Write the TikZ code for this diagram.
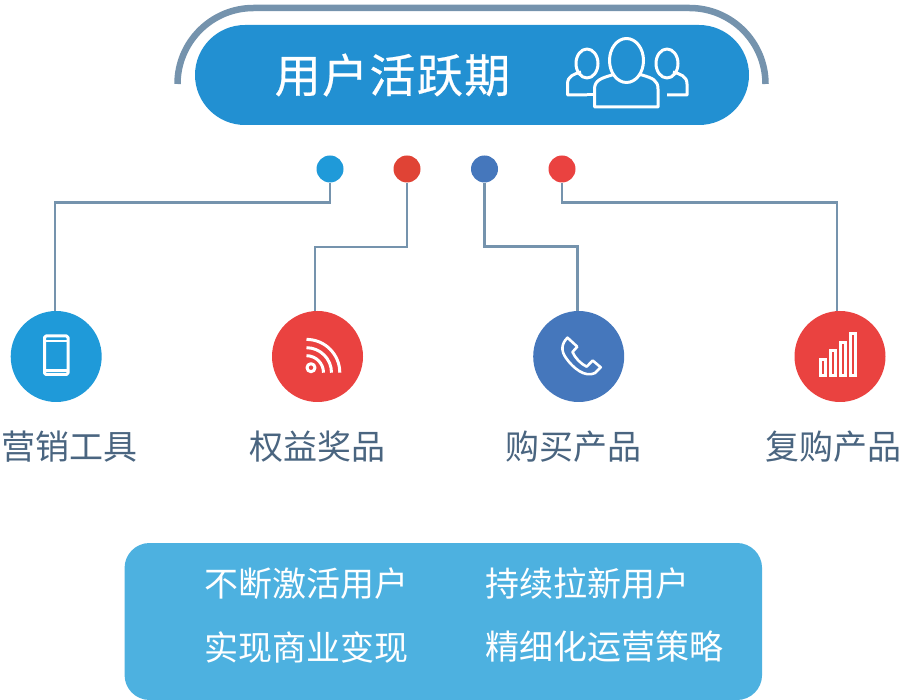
\documentclass[tikz,border=0pt]{standalone}
\usepackage{fontspec}
\setmainfont{Noto Sans CJK SC}
\definecolor{pillc}{HTML}{2290D2}
\definecolor{arcc}{HTML}{7593AD}
\definecolor{blueA}{HTML}{1F9AD9}
\definecolor{redA}{HTML}{E04335}
\definecolor{blueB}{HTML}{4577BC}
\definecolor{redB}{HTML}{EA4240}
\definecolor{boxc}{HTML}{4DB1E0}
\definecolor{labc}{HTML}{4A6580}
\tikzset{
  dotn/.style={circle,minimum size=27pt,inner sep=0pt,fill=#1},
  bign/.style={circle,minimum size=91pt,inner sep=0pt,fill=#1},
  conn/.style={draw=arcc,line width=2.4pt},
  lab/.style={text=labc,font=\fontsize{34}{36}\selectfont,inner sep=0pt},
  wht/.style={text=white,font=\fontsize{34}{36}\selectfont,inner sep=0pt,anchor=west},
  ico/.style={draw=white,line width=3pt,line join=round},
}
\begin{document}
\begin{tikzpicture}[x=1pt,y=-1pt]
\useasboundingbox (0,0) rectangle (900,700);
% arc
\draw[draw=arcc,line width=6.5pt] (177.5,84) arc[start angle=180,end angle=90,radius=76pt] -- (689.5,8) arc[start angle=90,end angle=0,radius=76pt];
% pill
\node (pill) at (472,75) [rectangle,rounded corners=50pt,fill=pillc,minimum width=554pt,minimum height=100pt,inner sep=0pt] {};
\node (title) at (392.5,75) [text=white,inner sep=0pt,font=\fontsize{46}{48}\selectfont\addfontfeatures{LetterSpace=3,FakeBold=0.5}] {用户活跃期};
% people icon
\draw[ico] (587,95) -- (567.5,95) -- (567.5,84) .. controls (567.5,76) and (574,74) .. (581,72);
\draw[ico] (667,95) -- (687,95) -- (687,84) .. controls (687,76) and (680,74) .. (673,72);
\draw[ico] (587,95) -- (597,95);
\draw[ico] (587,63.5) ellipse[x radius=11pt,y radius=14.5pt];
\draw[ico] (667,63.5) ellipse[x radius=11pt,y radius=14.5pt];
\draw[ico,fill=pillc] (594.5,107) -- (594.5,89) .. controls (594.5,80) and (602,78) .. (612,75) -- (642,75) .. controls (652,78) and (658,80) .. (658,89) -- (658,107) -- cycle;
\draw[ico,fill=pillc] (626.5,60.5) ellipse[x radius=17pt,y radius=22pt];
% dots
\node (d1) at (330,169) [dotn=blueA] {};
\node (d2) at (407,169) [dotn=redA] {};
\node (d3) at (484.5,169) [dotn=blueB] {};
\node (d4) at (562,169) [dotn=redB] {};
% circles
\node (c1) at (56.2,356.5) [bign=blueA] {};
\node (c2) at (317.5,356.5) [bign=redB] {};
\node (c3) at (578.7,356.5) [bign=blueB] {};
\node (c4) at (840,356.5) [bign=redB] {};
% connectors
\coordinate (j1) at (55,202.5);
\coordinate (j2) at (315,247);
\coordinate (j3) at (577.5,246.5);
\coordinate (j4) at (837,202.5);
\draw[conn] (d1.south) |- (j1) -- (j1 |- c1.north);
\draw[conn] (d2.south) |- (j2) -- (j2 |- c2.north);
\draw[conn] (d3.south) |- (j3) -- (j3 |- c3.north);
\draw[conn] (d4.south) |- (j4) -- (j4 |- c4.north);
% phone icon
\draw[ico,rounded corners=1.5pt] (44.5,336) rectangle (68,374.5);
\draw[ico,line width=2.2pt] (44.5,341) -- (68,341) (44.5,370.5) -- (68,370.5);
% rss icon
\draw[ico] (311,367.7) circle[radius=4pt];
\draw[ico] (306.5,355.7) arc[start angle=90,end angle=0,radius=17pt];
\draw[ico] (306.5,347.7) arc[start angle=90,end angle=0,radius=25pt];
\draw[ico] (306.5,339.4) arc[start angle=90,end angle=0,radius=33.3pt];
% handset icon
\draw[ico,line width=2.6pt] (567.5,337.7) -- (577.3,346.7) -- (572.5,352) .. controls (575,358) and (581,364) .. (586.7,366.7) -- (592.7,360.5) -- (600.7,367.3) -- (595,373) .. controls (585,378) and (573,368) .. (566,358) .. controls (561,351) and (561,344) .. (567.5,337.7) -- cycle;
% bars icon
\draw[ico,line join=miter] (820.3,375.4) rectangle (825.5,359.5);
\draw[ico,line join=miter] (830.3,375.4) rectangle (835.5,350.5);
\draw[ico,line join=miter] (840.5,375.4) rectangle (845.7,342.5);
\draw[ico,line join=miter] (850.5,375.4) rectangle (855.8,333.7);
% labels
\node (l1) at (69.5,447) [lab] {营销工具};
\node (l2) at (317.5,447) [lab] {权益奖品};
\node (l3) at (573,447) [lab] {购买产品};
\node (l4) at (833,447) [lab] {复购产品};
% bottom box
\node (box) at (443.3,621.5) [rectangle,rounded corners=25pt,fill=boxc,minimum width=637.5pt,minimum height=157pt,inner sep=0pt] {};
\node (t1) at (204,584) [wht] {不断激活用户};
\node (t2) at (485,584) [wht] {持续拉新用户};
\node (t3) at (204,647) [wht] {实现商业变现};
\node (t4) at (485,647) [wht] {精细化运营策略};
\end{tikzpicture}
\end{document}
